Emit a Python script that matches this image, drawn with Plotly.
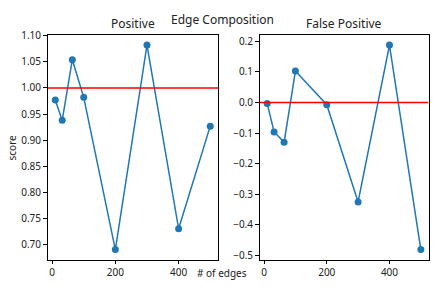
import plotly.graph_objects as go

edges = [10, 32, 64, 100, 200, 300, 400, 500]
positive = [0.977, 0.938, 1.054, 0.982, 0.691, 1.082, 0.731, 0.927]
false_positive = [-0.003, -0.096, -0.130, 0.103, -0.007, -0.325, 0.188, -0.481]
pos_ref = 1.0
fp_ref = 0.0
x_ticks = [0, 200, 400]
pos_ticks = [0.70, 0.75, 0.80, 0.85, 0.90, 0.95, 1.00, 1.05, 1.10]
fp_ticks = [-0.5, -0.4, -0.3, -0.2, -0.1, 0.0, 0.1, 0.2]

W, H = 435, 288
FONT = "Noto Sans"
BLUE = "#1f77b4"

fig = go.Figure()

fig.add_trace(go.Scatter(x=edges, y=positive, mode="lines+markers",
                         line=dict(color=BLUE, width=1.5),
                         marker=dict(color=BLUE, size=7),
                         xaxis="x", yaxis="y", showlegend=False))
fig.add_trace(go.Scatter(x=edges, y=false_positive, mode="lines+markers",
                         line=dict(color=BLUE, width=1.5),
                         marker=dict(color=BLUE, size=7),
                         xaxis="x2", yaxis="y2", showlegend=False))

def xrange_of(vals):
    lo, hi = min(vals), max(vals)
    m = (hi - lo) * 0.05
    return [lo - m, hi + m]

xr = xrange_of(edges)
yr1 = xrange_of(positive)
yr2 = xrange_of(false_positive)

fig.add_trace(go.Scatter(x=xr, y=[pos_ref, pos_ref], mode="lines",
                         line=dict(color="red", width=1.5),
                         xaxis="x", yaxis="y", showlegend=False, hoverinfo="skip"))
fig.add_trace(go.Scatter(x=xr, y=[fp_ref, fp_ref], mode="lines",
                         line=dict(color="red", width=1.5),
                         xaxis="x2", yaxis="y2", showlegend=False, hoverinfo="skip"))

axis_common = dict(showline=True, linecolor="black", linewidth=1, mirror=True,
                   ticks="outside", ticklen=3.5, tickwidth=1, tickcolor="black",
                   showgrid=False, zeroline=False,
                   tickfont=dict(family=FONT, size=10, color="#222"))

x1d = [47.5 / W, 218 / W]
x2d = [259.5 / W, 428.5 / W]
yd = [1 - 261 / H, 1 - 28.7 / H]

fig.update_layout(
    width=W, height=H,
    margin=dict(l=0, r=0, t=0, b=0),
    paper_bgcolor="white", plot_bgcolor="white",
    font=dict(family=FONT, size=10, color="#222"),
    xaxis=dict(domain=x1d, range=xr, tickvals=x_ticks, anchor="y", **axis_common),
    yaxis=dict(domain=yd, range=yr1, tickvals=pos_ticks,
               ticktext=[f"{v:.2f}" for v in pos_ticks], anchor="x", **axis_common),
    xaxis2=dict(domain=x2d, range=xr, tickvals=x_ticks, anchor="y2", **axis_common),
    yaxis2=dict(domain=yd, range=yr2, tickvals=fp_ticks,
                ticktext=[f"{v:.1f}".replace("-", "\u2212") for v in fp_ticks],
                anchor="x2", **axis_common),
    annotations=[
        dict(text="Edge Composition", x=223 / W, y=1 - 13 / H, xref="paper", yref="paper",
             showarrow=False, font=dict(family=FONT, size=12, color="#222"),
             xanchor="center", yanchor="middle"),
        dict(text="Positive", x=(x1d[0] + x1d[1]) / 2, y=1 - 17.5 / H, xref="paper", yref="paper",
             showarrow=False, font=dict(family=FONT, size=12, color="#222"),
             xanchor="center", yanchor="middle"),
        dict(text="False Positive", x=(x2d[0] + x2d[1]) / 2, y=1 - 17.5 / H, xref="paper", yref="paper",
             showarrow=False, font=dict(family=FONT, size=12, color="#222"),
             xanchor="center", yanchor="middle"),
        dict(text="score", x=12 / W, y=1 - 145 / H, xref="paper", yref="paper",
             showarrow=False, textangle=-90, font=dict(family=FONT, size=10, color="#222"),
             xanchor="center", yanchor="middle"),
        dict(text="# of edges", x=222 / W, y=1 - 275 / H, xref="paper", yref="paper",
             showarrow=False, font=dict(family=FONT, size=10, color="#222"),
             xanchor="center", yanchor="middle"),
    ],
)

fig.write_html("out.html", config={"displayModeBar": False},
               post_script="document.body.style.margin='0';document.body.style.overflow='hidden';")
